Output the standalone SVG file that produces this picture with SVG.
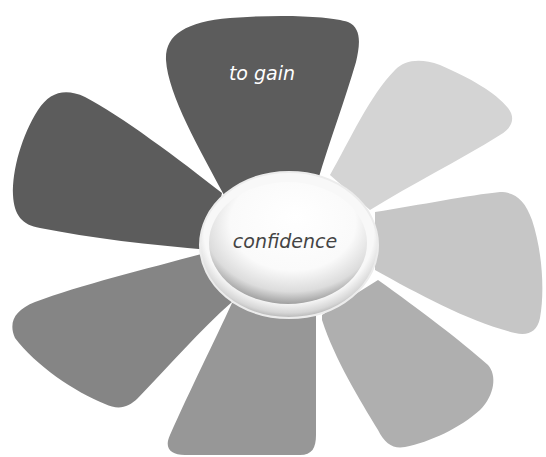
<svg xmlns="http://www.w3.org/2000/svg" width="546" height="457" viewBox="0 0 546 457">
<defs>
<style>
.petal{stroke:none}
.lbl{font-family:"DejaVu Sans","Liberation Sans",sans-serif;font-style:italic;text-anchor:middle}
</style>
<radialGradient id="ringG" cx="0.5" cy="0.42" r="0.58">
<stop offset="0.82" stop-color="#f8f8f8"/>
<stop offset="0.94" stop-color="#d6d6d6"/>
<stop offset="1" stop-color="#b4b4b4"/>
</radialGradient>
<radialGradient id="coreG" cx="0.52" cy="0.36" r="0.64" fx="0.55" fy="0.28">
<stop offset="0" stop-color="#ffffff"/>
<stop offset="0.62" stop-color="#fafafa"/>
<stop offset="0.86" stop-color="#dcdcdc"/>
<stop offset="1" stop-color="#a0a0a0"/>
</radialGradient>
</defs>
<rect width="546" height="457" fill="#ffffff"/>
<g id="petal-top"><path class="petal" fill="#5c5c5c" d="M224,195 C200,150 168,95 166,60 C165,35 185,22 230,18 C280,14 330,16 348,22 C362,28 360,45 356,62 C345,100 330,140 318,180 Z"/></g>
<g id="petal-upper-left"><path class="petal" fill="#5c5c5c" d="M222,193 C180,160 120,115 85,97 C65,88 50,92 38,110 C22,135 12,170 13,195 C14,215 22,225 40,228 C90,238 150,245 210,250 Z"/></g>
<g id="petal-upper-right"><path class="petal" fill="#d4d4d4" d="M330,175 C350,140 370,95 395,70 C405,60 420,58 440,65 C470,78 495,92 508,108 C516,118 512,128 500,135 C460,160 410,185 370,210 Z"/></g>
<g id="petal-right"><path class="petal" fill="#c6c6c6" d="M375,212 C420,205 470,195 500,192 C515,192 525,200 532,220 C542,250 545,290 540,318 C537,332 528,336 515,333 C470,322 420,295 375,270 Z"/></g>
<g id="petal-lower-right"><path class="petal" fill="#afafaf" d="M322,315 L378,280 C420,310 460,340 488,365 C497,375 495,395 480,410 C460,428 430,442 405,447 C393,449 385,444 378,430 C360,400 335,360 322,320 Z"/></g>
<g id="petal-bottom"><path class="petal" fill="#979797" d="M232,303 C215,340 190,390 170,435 C164,448 170,455 185,455 L300,455 C312,455 316,448 316,435 L316,310 Z"/></g>
<g id="petal-lower-left"><path class="petal" fill="#858585" d="M205,253 C150,268 80,285 35,302 C15,310 8,322 15,338 C35,365 75,392 105,404 C118,410 128,408 138,398 C170,365 200,330 232,302 Z"/></g>
<g id="center">
<ellipse cx="289" cy="245" rx="89" ry="73" fill="url(#ringG)" stroke="#ececec" stroke-width="2"/>
<ellipse cx="288" cy="243" rx="79" ry="61" fill="url(#coreG)"/>
<text class="lbl" x="285" y="248" font-size="19" fill="#444444">confidence</text>
</g>
<g id="label-top"><text class="lbl" x="262" y="80" font-size="19" fill="#ffffff">to gain</text></g>
<g id="connectors"></g>
</svg>
